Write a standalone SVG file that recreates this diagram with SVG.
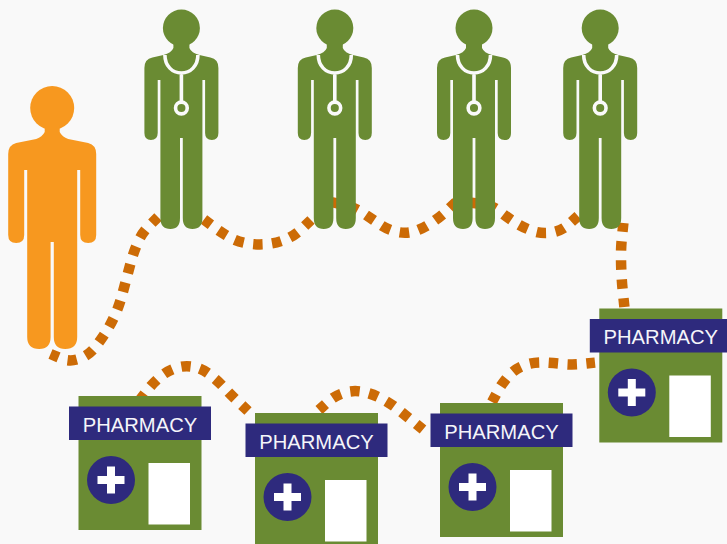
<svg xmlns="http://www.w3.org/2000/svg" xmlns:xlink="http://www.w3.org/1999/xlink" width="727" height="544" viewBox="0 0 727 544">
<style>
.bg{fill:#f9f9f9}
.green{fill:#6a8b33}
.navy{fill:#2e2a7d}
.white{fill:#fff}
.steth{fill:none;stroke:#fafafa;stroke-width:3.6}
.dots{fill:none;stroke:#cc6b06;stroke-width:10.5;stroke-dasharray:.5 .5;stroke-dashoffset:.04;stroke-linecap:butt}
.label{font-family:"Liberation Sans",Arial,sans-serif;font-size:20.2px;fill:#f5f5fa;text-anchor:middle}
</style>
<defs>
<g id="doctor">
<circle class="green" cx="0" cy="0" r="18.5"/>
<path class="green" d="M-8 15L-8 20Q-10 25 -18 27L-29 29.5Q-37 31 -37 40L-37 105Q-37 112 -30.5 112Q-23.7 112 -23.7 105L-23.7 52L-21 52L-21 190Q-21 201 -11 201Q-1.4 201 -1.4 190L-1.4 110L1.4 110L1.4 190Q1.4 201 11 201Q21 201 21 190L21 52L23.7 52L23.7 105Q23.7 112 30.5 112Q37 112 37 105L37 40Q37 31 29 29.5L18 27Q10 25 8 20L8 15Z"/>
<path class="steth" d="M-16.5 27C-16.5 38 -9 45 0 45C9 45 16.5 38 16.5 27M0 45L0 74"/>
<circle class="steth" cx="0" cy="80" r="5.85"/>
</g>
<g id="shop">
<rect class="green" x="0" y="0" width="123" height="134"/>
<rect class="navy" x="-9.5" y="10.5" width="142" height="33.5"/>
<circle class="navy" cx="32.5" cy="84" r="24"/>
<path class="white" d="M28.5 70.5h8v9.5h9.5v8h-9.5v9.5h-8v-9.5h-9.5v-8h9.5z"/>
<rect class="white" x="70" y="67" width="41.5" height="61.5"/>
</g>
</defs>
<rect class="bg" width="727" height="544"/>
<g id="connectors">
<path class="dots" pathLength="10.42" d="M50.5 354L62.5 359Q71 362 80 358.5T95 347.5T106 332T115 315T121.5 297T126.5 278.5T131.5 260T138 242T148.5 226.5L158 217"/>
<path class="dots" pathLength="6.42" d="M204 219.5L214.5 227.5Q222 233 230 237.5T248 243.5T267.5 244T285.5 239.5T301 229.5L311 220"/>
<path class="dots" pathLength="7.42" d="M331 202L344.5 205Q354 207 363 213T380 224.5T397.5 232T415.5 231T432 222.5T446.5 211L456 202"/>
<path class="dots" pathLength="6.42" d="M469 202.5L482.5 204Q492 205 500 211.5T516 223T533 231T551.5 232.5T568 225L578 216"/>
<path class="dots" pathLength="4.42" d="M623.4 223L622 236.5Q621 246 621 255.5T621.5 274.5T623 293.5L624.4 307"/>
<path class="dots" pathLength="6.42" d="M595 362.6L581.5 364Q572 365 562.5 364T543.5 362.5T525 365T509.5 375T498.5 390L492 402"/>
<path class="dots" pathLength="6.42" d="M423 429.5L412.5 421Q405 415 397.5 409T381.5 398.5T363.5 392T345 392.5T329 401L319 410"/>
<path class="dots" pathLength="7.42" d="M248 411L238 401.5Q231 395 224.5 388T210.5 375T194 367T176 368T160 377T147.5 390L139.5 400.5"/>
</g>
<g id="patient" transform="translate(52.2 108)">
<circle cx="0" cy="0" r="22" fill="#f7981f"/>
<path fill="#f7981f" d="M-7.5 17L-7.5 24Q-10 29 -16 31L-36 35Q-44 37 -44 46L-44 127Q-44 135 -36 135Q-28 135 -28 127L-28 62L-25 62L-25 229Q-25 241 -13 241Q-1.6 241 -1.6 229L-1.6 134L1.6 134L1.6 229Q1.6 241 13 241Q25 241 25 229L25 62L28 62L28 127Q28 135 36 135Q44 135 44 127L44 46Q44 37 36 35L16 31Q10 29 7.5 24L7.5 17Z"/>
</g>
<g id="doctor-1"><use href="#doctor" xlink:href="#doctor" x="181.4" y="28"/></g>
<g id="doctor-2"><use href="#doctor" xlink:href="#doctor" x="334.8" y="28"/></g>
<g id="doctor-3"><use href="#doctor" xlink:href="#doctor" x="474" y="28"/></g>
<g id="doctor-4"><use href="#doctor" xlink:href="#doctor" x="600.2" y="28"/></g>
<g id="pharmacy-1" transform="translate(78.5 396)"><use href="#shop" xlink:href="#shop"/><text class="label" x="61.5" y="35.5">PHARMACY</text></g>
<g id="pharmacy-2" transform="translate(255 413)"><use href="#shop" xlink:href="#shop"/><text class="label" x="61.5" y="35.5">PHARMACY</text></g>
<g id="pharmacy-3" transform="translate(440 403)"><use href="#shop" xlink:href="#shop"/><text class="label" x="61.5" y="35.5">PHARMACY</text></g>
<g id="pharmacy-4" transform="translate(599.3 308.5)"><use href="#shop" xlink:href="#shop"/><text class="label" x="61.5" y="35.5">PHARMACY</text></g>
</svg>
